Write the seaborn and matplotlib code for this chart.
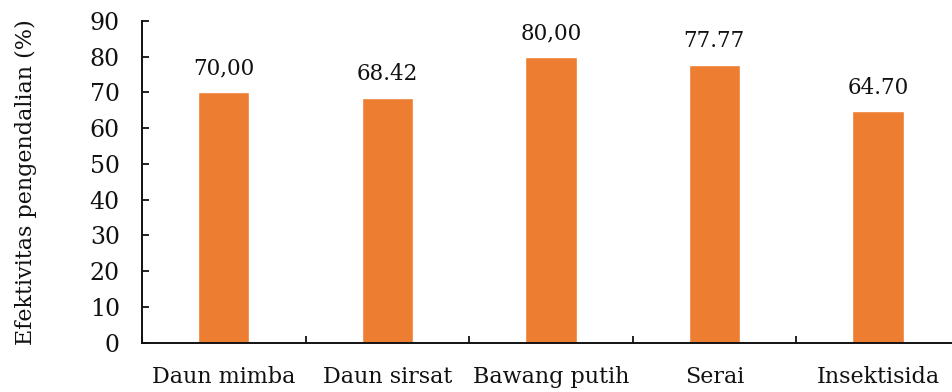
import numpy as np
import pandas as pd
import seaborn as sns
import matplotlib.pyplot as plt

perlakuan = ["Daun mimba", "Daun sirsat", "Bawang putih", "Serai", "Insektisida"]
efektivitas = [70.00, 68.42, 80.00, 77.77, 64.70]
label_nilai = ["70,00", "68.42", "80,00", "77.77", "64.70"]

df = pd.DataFrame({"perlakuan": perlakuan, "efektivitas": efektivitas})

sns.set_theme(style="ticks")
plt.rcParams["font.family"] = ["DejaVu Serif"]

fig = plt.figure(figsize=(9.53, 3.92), dpi=100)
ax = fig.add_axes([0.149, 0.126, 0.858, 0.821])

sns.barplot(
    data=df,
    x="perlakuan",
    y="efektivitas",
    color="#ED7D31",
    saturation=1,
    width=0.314,
    ax=ax,
)

for i, teks in enumerate(label_nilai):
    ax.annotate(teks, (i, efektivitas[i]), xytext=(0, 9), textcoords="offset points",
                ha="center", va="bottom", fontsize=15.5, color="#111111")

ax.set_xlim(-0.5, len(perlakuan) - 0.5)
ax.set_ylim(0, 90)
ax.set_yticks(np.arange(0, 91, 10))
ax.set_xticks(np.arange(-0.5, len(perlakuan), 1.0), minor=True)
ax.tick_params(axis="x", which="major", length=0, pad=17, labelsize=16, labelcolor="#111111")
ax.tick_params(axis="x", which="minor", direction="in", length=5, width=1.3, color="#111111")
ax.tick_params(axis="y", direction="in", length=5, width=1.3, labelsize=17, pad=16,
               color="#111111", labelcolor="#111111")

ax.set_xlabel("")
ax.set_ylabel("Efektivitas pengendalian (%)", fontsize=16, labelpad=38, color="#111111")

sns.despine(ax=ax)
for s in ["left", "bottom"]:
    ax.spines[s].set_linewidth(1.4)
    ax.spines[s].set_color("#111111")

fig.savefig("out.png", dpi=100)
